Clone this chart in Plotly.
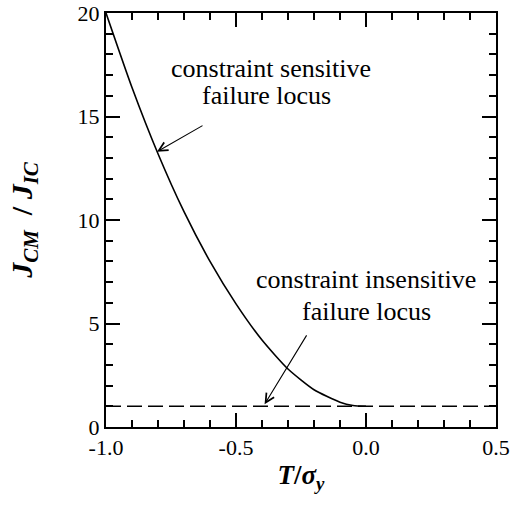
import plotly.graph_objects as go
from plotly.subplots import make_subplots

# Normalised T-stress and the constraint-sensitive toughness ratio J_CM / J_IC
t_ratio = [-1.0, -0.9, -0.8, -0.7, -0.6, -0.5, -0.4, -0.3, -0.2, -0.1, -0.05, 0.0]
j_ratio = [20.0, 16.4, 13.2, 10.4, 8.0, 5.95, 4.2, 2.8, 1.8, 1.2, 1.04, 1.0]

# Constraint-insensitive locus: J_CM / J_IC = 1 across the whole range
t_flat = [-1.0, 0.5]
j_flat = [1.0, 1.0]

x_ticks = [-1.0, -0.5, 0.0, 0.5]
x_tick_text = ["-1.0", "-0.5", "0.0", "0.5"]
y_ticks = [0, 5, 10, 15, 20]

serif = "Liberation Serif"
ink = "black"

fig = make_subplots(rows=1, cols=1)
fig.add_trace(go.Scatter(
    x=t_flat, y=j_flat, mode="lines",
    line=dict(color=ink, width=1.6, dash="15px,6px"),
    showlegend=False, hoverinfo="skip",
), row=1, col=1)
fig.add_trace(go.Scatter(
    x=t_ratio, y=j_ratio, mode="lines",
    line=dict(color=ink, width=1.6, shape="spline", smoothing=0.6),
    showlegend=False, hoverinfo="skip",
), row=1, col=1)

text_font = dict(family=serif, size=26, color=ink)
labels = [
    ("constraint sensitive", -0.365, 17.34),
    ("failure locus", -0.382, 16.03),
    ("constraint insensitive", 0.0, 7.14),
    ("failure locus", 0.0, 5.57),
]
for txt, x, y in labels:
    fig.add_annotation(x=x, y=y, xref="x", yref="y", text=txt, showarrow=False,
                       xanchor="center", yanchor="middle", font=text_font)

# Pointers from the captions to the two loci
arrows = [
    (-0.804, 13.3, -0.623, 14.6),
    (-0.39, 1.1, -0.225, 4.5),
]
for x, y, ax, ay in arrows:
    fig.add_annotation(x=x, y=y, ax=ax, ay=ay, xref="x", yref="y",
                       axref="x", ayref="y",
                       text="", showarrow=True, arrowhead=5, arrowsize=1.6,
                       arrowwidth=1.1, arrowcolor=ink)

axis_common = dict(
    showgrid=False, zeroline=False, showline=True, linewidth=2,
    linecolor=ink, mirror="allticks", ticks="inside", ticklen=14,
    tickwidth=1.5, tickcolor=ink,
    tickfont=dict(family=serif, size=22, color=ink),
)

fig.update_xaxes(
    row=1, col=1,
    range=[-1.0, 0.5], tick0=-1.0, dtick=0.5,
    minor=dict(dtick=0.1, ticks="inside", ticklen=7),
    title=dict(text="<b><i>T</i>/<i>σ</i><sub><i>y</i></sub></b>",
               font=dict(family=serif, size=27, color=ink), standoff=6),
    **axis_common,
)
fig.update_yaxes(
    row=1, col=1,
    range=[0, 20], tick0=0, dtick=5,
    minor=dict(dtick=1, ticks="inside", ticklen=7),
    title=dict(text="<b><i>J</i><sub><i>CM</i></sub>  / <i>J</i><sub><i>IC</i></sub></b>",
               font=dict(family=serif, size=30, color=ink), standoff=36),
    **axis_common,
)
# hyphen-minus tick text for the T/sigma_y axis
fig.update_xaxes(row=1, col=1, tickmode="array", tickvals=x_ticks, ticktext=x_tick_text)
fig.update_yaxes(row=1, col=1, tickmode="array", tickvals=y_ticks)

fig.update_layout(
    template="simple_white",
    width=521, height=505,
    margin=dict(l=106, r=25, t=13, b=78, autoexpand=False),
    plot_bgcolor="white", paper_bgcolor="white",
    showlegend=False,
)

fig.write_html("out.html")
